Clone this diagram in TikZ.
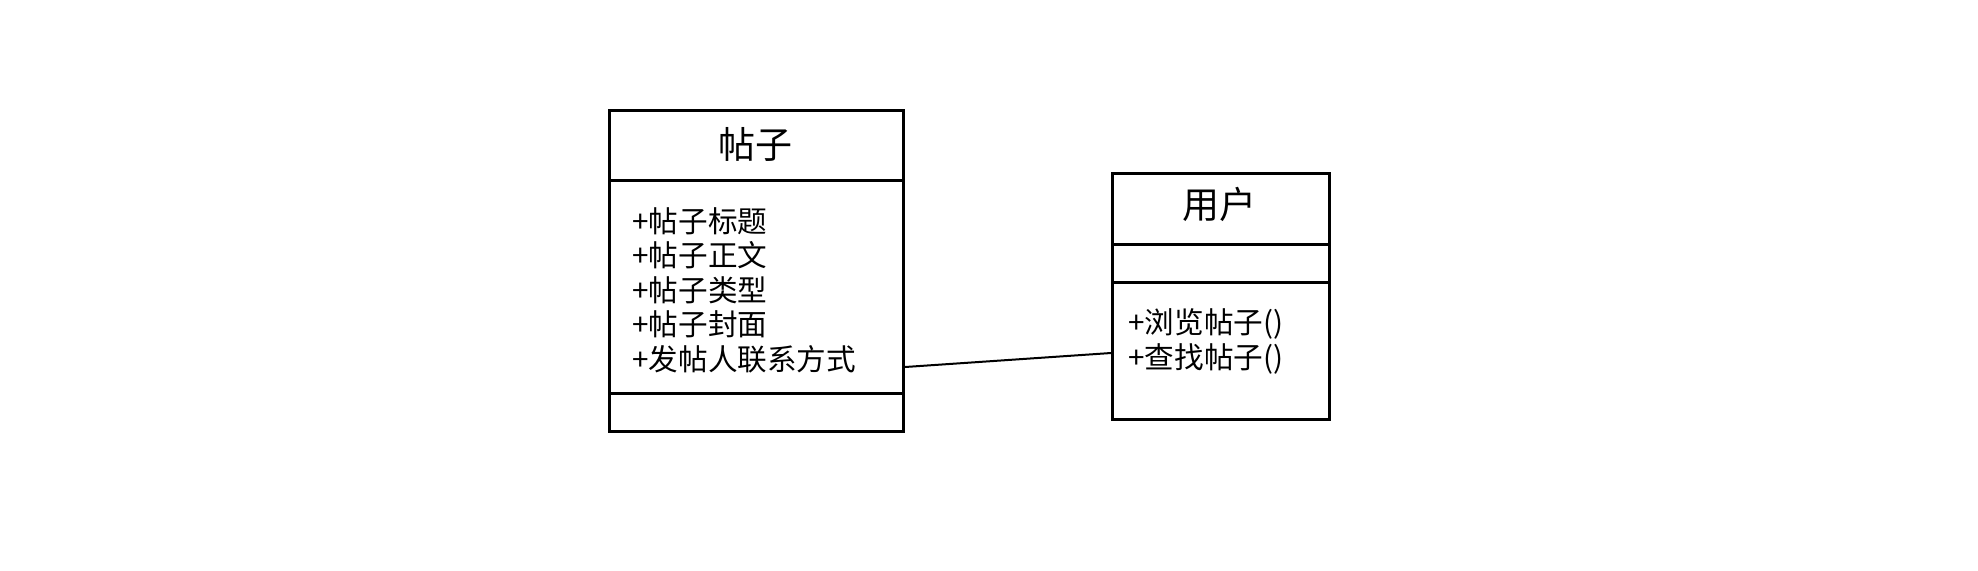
\documentclass[tikz,border=0pt]{standalone}
\usepackage{fontspec}
\setmainfont{Noto Sans CJK SC}
\begin{document}
\begin{tikzpicture}[x=0.5pt,y=-0.5pt,
  box/.style={draw,line width=1.5pt,inner sep=0pt,anchor=north west},
  divider/.style={line width=1.5pt},
  titletext/.style={inner sep=0pt,font=\fontsize{18.5}{22}\selectfont},
  membertext/.style={inner sep=0pt,anchor=west,font=\fontsize{14.8}{17}\selectfont},
  assoc/.style={line width=1pt}]
\useasboundingbox (0,0) rectangle (1978,570);
% Post class
\node[box,minimum width=147pt,minimum height=160.75pt] (post) at (608,108.5) {};
\draw[divider] (post.west |- 0,180) -- (post.east |- 0,180);
\draw[divider] (post.west |- 0,393.6) -- (post.east |- 0,393.6);
\node[titletext] (posttitle) at (755,144) {帖子};
\node[membertext] (pa1) at (632,221) {+帖子标题};
\node[membertext] (pa2) at (632,255.5) {+帖子正文};
\node[membertext] (pa3) at (632,290) {+帖子类型};
\node[membertext] (pa4) at (632,324.5) {+帖子封面};
\node[membertext] (pa5) at (632,359) {+发帖人联系方式};
% User class
\node[box,minimum width=108.5pt,minimum height=123pt] (user) at (1111,171.6) {};
\draw[divider] (user.west |- 0,244.7) -- (user.east |- 0,244.7);
\draw[divider] (user.west |- 0,282.6) -- (user.east |- 0,282.6);
\node[titletext] (usertitle) at (1219.5,204) {用户};
\node[membertext] (um1) at (1128,324) {+浏览帖子()};
\node[membertext] (um2) at (1128,359) {+查找帖子()};
% association
\coordinate (pend) at (post.east |- 0,367);
\coordinate (uend) at (user.west |- 0,353);
\draw[assoc] (pend) -- (uend);
\end{tikzpicture}
\end{document}
